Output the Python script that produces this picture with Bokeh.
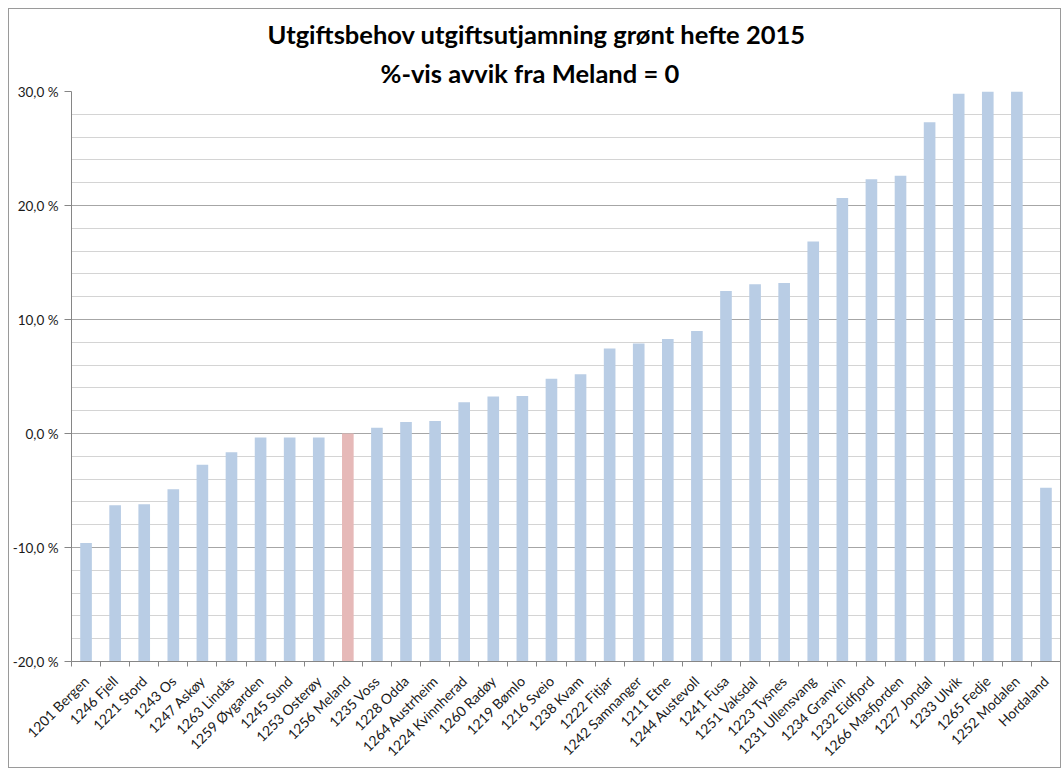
from math import pi
from bokeh.plotting import figure
from bokeh.models import FixedTicker, Range1d, Title
from bokeh.embed import file_html
from bokeh.resources import INLINE

# ---- data ----
kommuner = [
    "1201 Bergen", "1246 Fjell", "1221 Stord", "1243 Os", "1247 Askøy",
    "1263 Lindås", "1259 Øygarden", "1245 Sund", "1253 Osterøy", "1256 Meland",
    "1235 Voss", "1228 Odda", "1264 Austrheim", "1224 Kvinnherad", "1260 Radøy",
    "1219 Bømlo", "1216 Sveio", "1238 Kvam", "1222 Fitjar", "1242 Samnanger",
    "1211 Etne", "1244 Austevoll", "1241 Fusa", "1251 Vaksdal", "1223 Tysnes",
    "1231 Ullensvang", "1234 Granvin", "1232 Eidfjord", "1266 Masfjorden",
    "1227 Jondal", "1233 Ulvik", "1265 Fedje", "1252 Modalen", "Hordaland",
]
avvik = [
    -9.6, -6.3, -6.2, -4.9, -2.75,
    -1.65, -0.35, -0.35, -0.35, 0.0,
    0.5, 1.0, 1.1, 2.75, 3.25,
    3.3, 4.8, 5.2, 7.45, 7.9,
    8.3, 9.0, 12.5, 13.1, 13.2,
    16.85, 20.65, 22.3, 22.6,
    27.3, 29.8, 30.0, 30.0, -4.75,
]
referanse = "1256 Meland"
y_ticks = [-20, -10, 0, 10, 20, 30]
y_tick_labels = ["-20,0 %", "-10,0 %", "0,0 %", "10,0 %", "20,0 %", "30,0 %"]
y_minor = [-18, -16, -14, -12, -8, -6, -4, -2, 2, 4, 6, 8, 12, 14, 16, 18, 22, 24, 26, 28]
title_lines = ["Utgiftsbehov utgiftsutjamning grønt hefte 2015", "%-vis avvik fra Meland = 0"]

BLUE = "#b9cde5"
PINK = "#e6b9b8"
farger = [PINK if k == referanse else BLUE for k in kommuner]

FONT = "Lato"
y_min, y_max = y_ticks[0], y_ticks[-1]
n = len(kommuner)
xs = list(range(n))

p = figure(width=1053, height=760, output_backend="svg", toolbar_location=None,
           x_range=Range1d(-0.5, n - 0.5), y_range=Range1d(y_min, y_max),
           min_border_left=61, min_border_right=2, min_border_top=82, min_border_bottom=108)
p.outline_line_color = None
p.background_fill_color = "white"
p.border_fill_color = "white"
p.styles = {"border": "1px solid #9a9a9a", "margin-left": "8px", "margin-top": "8px"}

# title: p.title is the outer line, the added title sits nearest the plot
p.title = Title(text=title_lines[0], align="left", offset=196, text_font=FONT,
                text_font_style="bold", text_font_size="25.5px", text_color="#000000",
                standoff=6)
t2 = Title(text=title_lines[1], align="left", offset=309, text_font=FONT,
           text_font_style="bold", text_font_size="25.5px", text_color="#000000",
           standoff=8)
p.add_layout(t2, "above")

p.vbar(x=xs, bottom=y_min, top=avvik, width=0.4, fill_color=farger, line_color=None)

# x axis
xa = p.xaxis[0]
xa.ticker = FixedTicker(ticks=xs, minor_ticks=[i - 0.5 for i in range(n + 1)])
xa.major_label_overrides = {i: k for i, k in enumerate(kommuner)}
xa.major_tick_in = 0
xa.major_tick_out = 0
xa.minor_tick_in = 0
xa.minor_tick_out = 5
xa.minor_tick_line_color = "#868686"
xa.axis_line_color = "#868686"
xa.major_label_orientation = pi / 4
xa.major_label_standoff = 12
xa.major_label_text_font = FONT
xa.major_label_text_font_size = "14px"
xa.major_label_text_color = "#1a1a1a"
p.xgrid.visible = False

# y axis
ya = p.yaxis[0]
ya.ticker = FixedTicker(ticks=y_ticks, minor_ticks=y_minor)
ya.major_label_overrides = {t: l for t, l in zip(y_ticks, y_tick_labels)}
ya.major_tick_in = 0
ya.major_tick_out = 7
ya.major_tick_line_color = "#868686"
ya.minor_tick_line_color = None
ya.axis_line_color = "#868686"
ya.major_label_standoff = 6
ya.major_label_text_font = FONT
ya.major_label_text_font_size = "13.5px"
ya.major_label_text_color = "#1a1a1a"
p.ygrid.grid_line_color = "#a6a6a6"
p.ygrid.minor_grid_line_color = "#d4d4d4"

open("out.html", "w").write(file_html(p, INLINE))
